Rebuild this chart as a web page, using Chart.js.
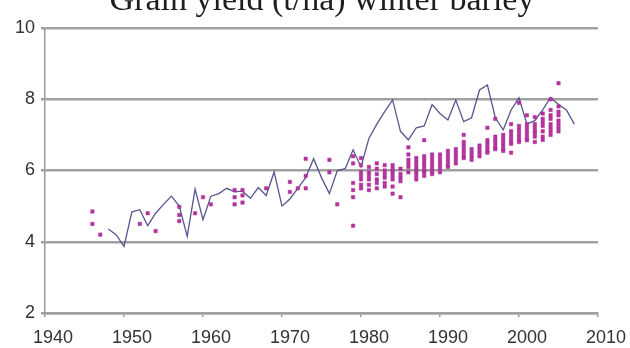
<!DOCTYPE html>
<html>
<head>
<meta charset="utf-8">
<script src="https://cdn.jsdelivr.net/npm/chart.js@4/dist/chart.umd.min.js"></script>
<style>
html,body{margin:0;padding:0;background:#fff;overflow:hidden;}
#wrap{position:relative;width:630px;height:348px;}
</style>
</head>
<body>
<div id="wrap"><canvas id="c" width="630" height="348"></canvas></div>
<script>
const titleText = "Grain yield (t/ha) winter barley";

// National average line (t/ha)
const lineYears = [1948,1949,1950,1951,1952,1953,1954,1955,1956,1957,1958,1959,1960,1961,1962,1963,1964,1965,1966,1967,1968,1969,1970,1971,1972,1973,1974,1975,1976,1977,1978,1979,1980,1981,1982,1983,1984,1985,1986,1987,1988,1989,1990,1991,1992,1993,1994,1995,1996,1997,1998,1999,2000,2001,2002,2003,2004,2005,2006,2007];
const lineValues = [4.36,4.2,3.87,4.84,4.9,4.45,4.8,5.05,5.28,5.0,4.15,5.48,4.62,5.28,5.35,5.5,5.4,5.42,5.22,5.52,5.3,5.96,5.0,5.2,5.5,5.8,6.33,5.8,5.35,6.0,6.05,6.58,6.1,6.9,7.3,7.65,7.98,7.1,6.86,7.2,7.25,7.85,7.6,7.42,7.98,7.37,7.48,8.26,8.4,7.48,7.14,7.7,8.04,7.3,7.4,7.7,8.05,7.85,7.7,7.3];

// Trial yields (several per year)
const dotYears = [1946,1947,1952,1953,1954,1957,1959,1960,1961,1964,1965,1968,1971,1972,1973,1976,1977,1979,1980,1981,1982,1983,1984,1985,1986,1987,1988,1989,1990,1991,1992,1993,1994,1995,1996,1997,1998,1999,2000,2001,2002,2003,2004,2005];
const dotValues = [
  [4.85,4.5],[4.2],[4.5],[4.8],[4.3],[4.98,4.75,4.58],[4.8],[5.25],[5.05],
  [5.45,5.25,5.05],[5.45,5.3,5.1],[5.5],[5.68,5.4],[5.5],[6.33,5.85,5.5],
  [6.3,5.95],[5.05],
  [6.4,6.2,5.65,5.45,5.25,4.45],
  [6.35,6.15,5.95,5.85,5.75,5.6,5.5],
  [6.1,5.95,5.85,5.75,5.6,5.45],
  [6.2,6.05,5.9,5.75,5.65,5.5],
  [6.15,6.0,5.9,5.8,5.65,5.55],
  [6.15,6.05,5.95,5.85,5.75,5.55,5.35],
  [6.05,5.9,5.8,5.7,5.25],
  [6.65,6.45,6.3,6.2,6.1,5.95],
  [6.35,6.25,6.15,6.05,5.95,5.85,5.75],
  [6.85,6.4,6.3,6.2,6.1,6.0,5.95,5.85],
  [6.45,6.35,6.25,6.15,6.05,5.95,5.9],
  [6.45,6.35,6.25,6.15,6.05,5.95],
  [6.55,6.45,6.35,6.25,6.15,6.1],
  [6.6,6.5,6.4,6.3,6.2],
  [7.0,6.8,6.7,6.6,6.5,6.4,6.35],
  [6.6,6.5,6.4,6.3],
  [6.7,6.6,6.5,6.4],
  [7.2,6.85,6.75,6.65,6.55,6.5],
  [7.45,6.95,6.85,6.75,6.65,6.6],
  [7.0,6.9,6.8,6.7,6.6,6.55],
  [7.3,7.1,7.0,6.9,6.8,6.75,6.5],
  [7.9,7.25,7.15,7.05,6.95,6.85,6.8],
  [7.55,7.3,7.2,7.1,7.0,6.9,6.85],
  [7.5,7.3,7.2,7.1,7.05,6.95,6.8],
  [7.6,7.45,7.35,7.25,7.1,6.95,6.86],
  [8.0,7.7,7.55,7.45,7.3,7.2,7.1,7.0],
  [8.45,7.8,7.65,7.55,7.4,7.3,7.2,7.1]
];

const xTicks = [1940,1950,1960,1970,1980,1990,2000,2010];
const yTicks = [2,4,6,8,10];

const linePts = lineYears.map((x,i)=>({x:x,y:lineValues[i]}));
const dotPts = [];
dotYears.forEach((yr,i)=>dotValues[i].forEach(v=>dotPts.push({x:yr,y:v})));

const titlePlugin = {
  id:'topTitle',
  afterDraw(chart){
    const ctx = chart.ctx;
    ctx.save();
    ctx.font = '34px "Liberation Serif", "Times New Roman", serif';
    ctx.fillStyle = '#1e1e1e';
    ctx.textAlign = 'center';
    ctx.textBaseline = 'alphabetic';
    ctx.fillText(titleText, 322, 10);
    ctx.restore();
  }
};

new Chart(document.getElementById('c'), {
  type:'scatter',
  data:{
    datasets:[
      {type:'scatter', data:dotPts, backgroundColor:'#b8329f', borderColor:'#a02a92', borderWidth:0.5, pointRadius:2.4, pointStyle:'rect', order:0},
      {type:'line', data:linePts, borderColor:'#55558f', borderWidth:1.3, pointRadius:0, fill:false, tension:0, order:1}
    ]
  },
  options:{
    responsive:false,
    animation:false,
    events:[],
    layout:{padding:{top:28,right:32,left:0,bottom:0}},
    plugins:{legend:{display:false}, tooltip:{enabled:false}, title:{display:false}},
    scales:{
      x:{
        type:'linear', min:1940, max:2010,
        afterBuildTicks(s){ s.ticks = xTicks.map(v=>({value:v})); },
        afterFit(s){ s.height = 35; },
        grid:{display:true, drawOnChartArea:false, drawTicks:true, tickLength:4, color:'#999', lineWidth:1.5},
        border:{display:true, color:'#a0a0a0', width:2.5},
        ticks:{color:'#333', font:{family:'"Liberation Sans", Arial, sans-serif', size:18}, padding:10, labelOffset:8, maxRotation:0, autoSkip:false, callback:v=>String(v)}
      },
      y:{
        min:2, max:10,
        afterBuildTicks(s){ s.ticks = yTicks.map(v=>({value:v})); },
        afterFit(s){ s.width = 45; },
        grid:{color:'#a0a0a0', lineWidth:2.5, tickLength:4, drawTicks:true},
        border:{display:true, color:'#999', width:1.5},
        ticks:{color:'#333', font:{family:'"Liberation Sans", Arial, sans-serif', size:18}, padding:6, callback:v=>String(v)}
      }
    }
  },
  plugins:[titlePlugin]
});
</script>
</body>
</html>
